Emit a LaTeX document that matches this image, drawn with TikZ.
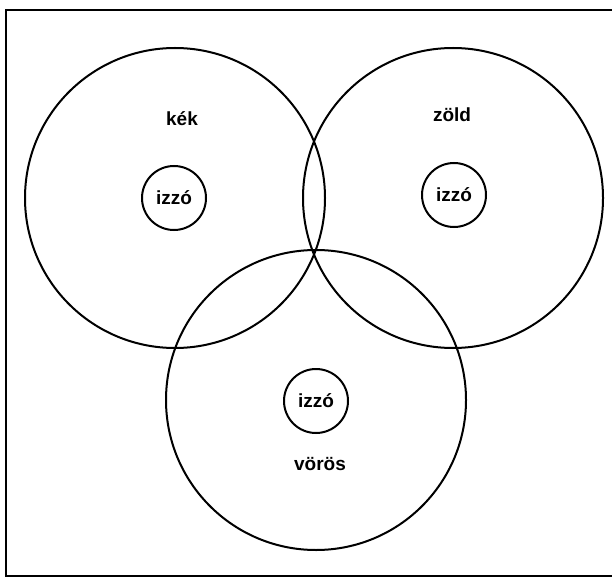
\documentclass[tikz,border=0pt]{standalone}
\usepackage{fontspec}
\setmainfont{Liberation Sans}
\usepackage{tikz}
\usetikzlibrary{positioning}

\begin{document}
\begin{tikzpicture}[
  x=1pt, y=-1pt,
  bigc/.style={circle, draw, line width=2pt, inner sep=0pt, minimum size=300pt},
  smallc/.style={circle, draw, line width=2pt, inner sep=0pt, minimum size=64pt,
             font=\bfseries\fontsize{19}{19}\selectfont},
  lbl/.style={font=\bfseries\fontsize{19}{19}\selectfont},
  frame/.style={line width=2pt}
]
  \useasboundingbox (0,0) rectangle (612,577);
  \draw[frame] (612,10) -- (6,10) -- (6,576) -- (612,576);

  \node[bigc] (kek)   at (175,198) {};
  \node[bigc] (zold)  at (453,198) {};
  \node[bigc] (voros) at (316,400) {};

  \node[smallc] (kekizzo)   at (174,198) {izzó};
  \node[smallc] (zoldizzo)  at (454,195) {izzó};
  \node[smallc] (vorosizzo) at (316,401) {izzó};

  \node[lbl] (keklbl)   at (182,119) {kék};
  \node[lbl] (zoldlbl)  at (452,115) {zöld};
  \node[lbl] (voroslbl) at (320,464) {vörös};
\end{tikzpicture}
\end{document}
